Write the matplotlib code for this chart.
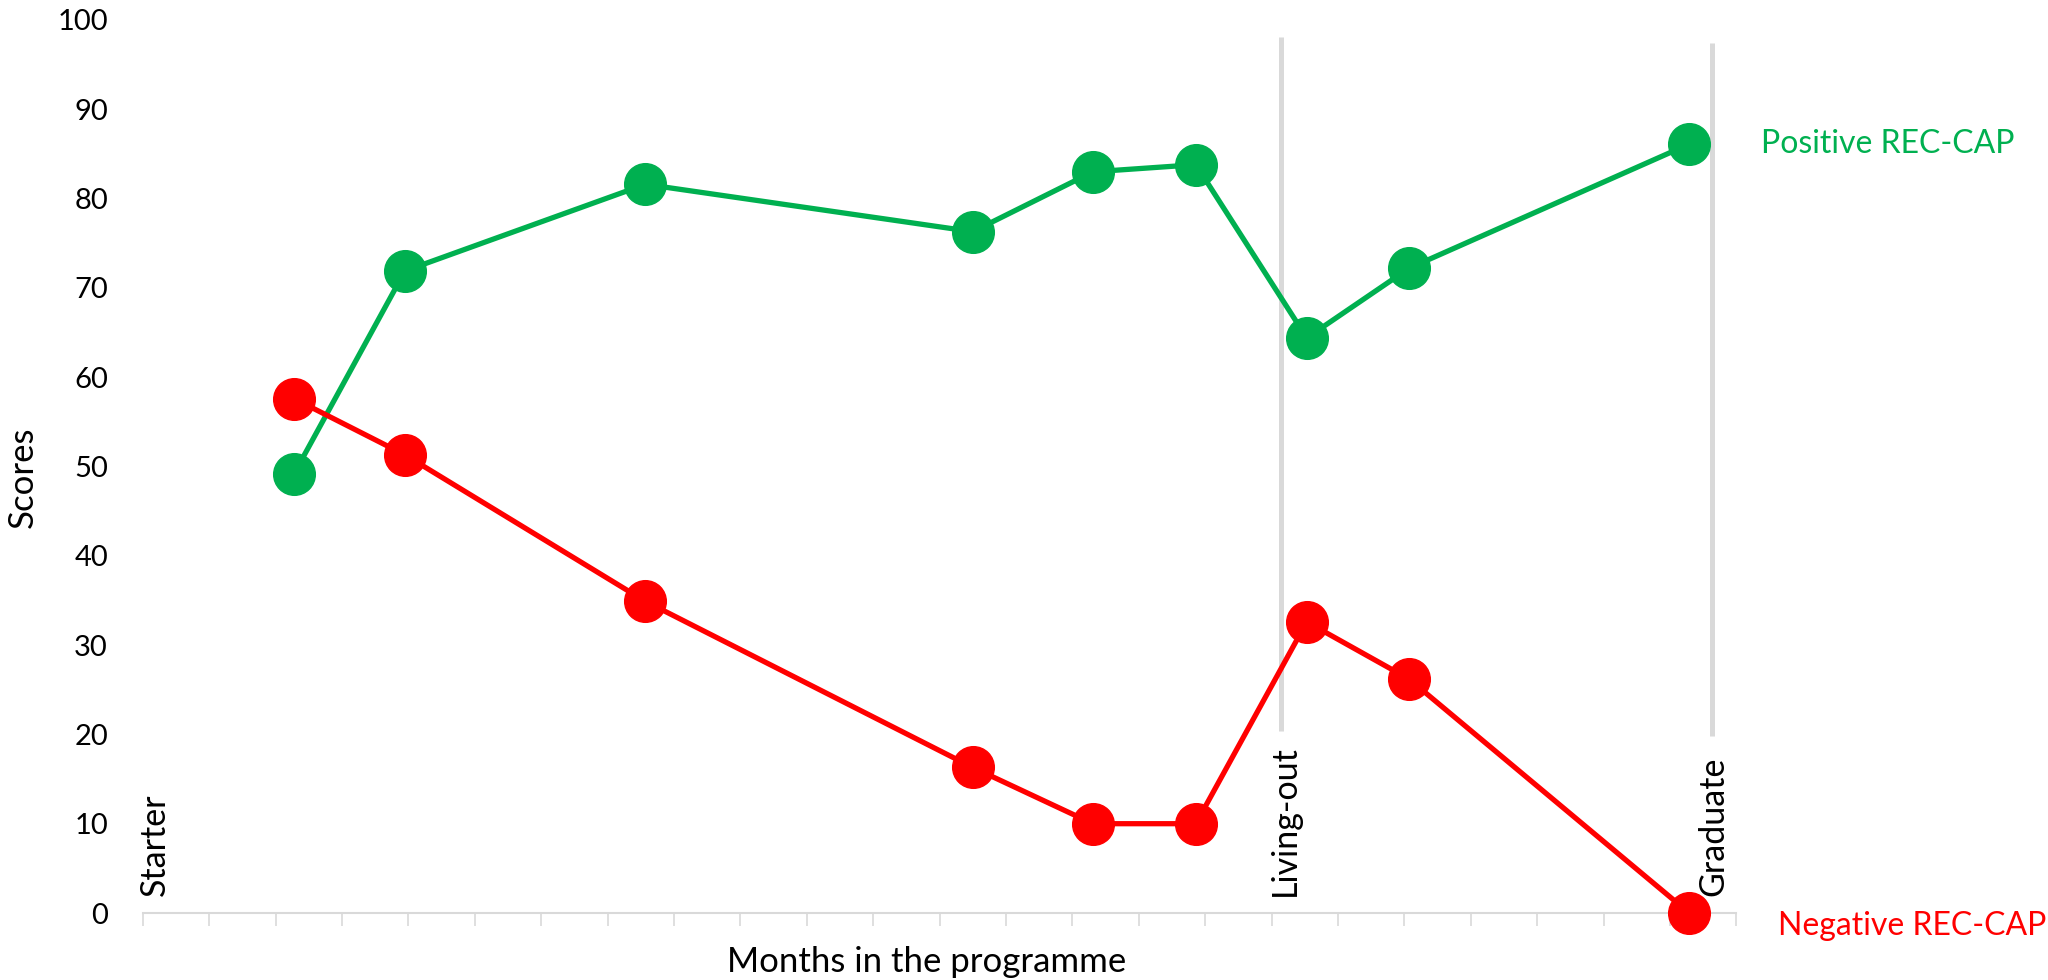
import matplotlib
matplotlib.use("Agg")
import matplotlib.pyplot as plt

# months in the programme and REC-CAP scores
months = [2.28, 3.95, 7.57, 12.5, 14.31, 15.86, 17.53, 19.07, 23.29]
positive = [49.2, 71.9, 81.6, 76.3, 83.0, 83.8, 64.4, 72.2, 86.1]
negative = [57.6, 51.3, 34.9, 16.3, 10.0, 10.0, 32.6, 26.2, 0.0]

# programme stages
stage_names = ["Starter", "Living-out", "Graduate"]
stage_x = [0.18, 17.2, 23.65]
# stage separators (x, y from, y to)
sep_x = [17.14, 23.64]
sep_lo = [20.4, 19.8]
sep_hi = [98.1, 97.4]

green = "#00b050"
red = "#ff0000"
grey = "#d9d9d9"

plt.rcParams['font.family'] = ['Lato', 'DejaVu Sans']

fig = plt.figure(figsize=(20.48, 9.8), dpi=100)
ax = fig.add_axes([142.7 / 2048, 67 / 980, (1736.4 - 142.7) / 2048, 893 / 980])

for x, lo, hi in zip(sep_x, sep_lo, sep_hi):
    ax.plot([x, x], [lo, hi], color=grey, lw=3.6, zorder=1, solid_capstyle='butt')

ax.plot(months, positive, color=green, lw=3.8, marker='o', ms=30, clip_on=False, zorder=3)
ax.plot(months, negative, color=red, lw=3.8, marker='o', ms=30, clip_on=False, zorder=3)

ax.annotate("Positive REC-CAP", (months[-1], positive[-1]), xytext=(52, 0),
            textcoords='offset points', color=green, fontsize=23, va='center', ha='left')
ax.annotate("Negative REC-CAP", (months[-1], negative[-1]), xytext=(64, -9),
            textcoords='offset points', color=red, fontsize=23, va='center', ha='left')

for name, x in zip(stage_names, stage_x):
    ax.text(x, 1.9, name, rotation=90, ha='center', va='bottom', fontsize=24.5)

ax.set_xlim(0, 24)
ax.set_ylim(0, 100)
ax.set_xticks(range(0, 25))
ax.set_xticklabels([])
ax.set_yticks(range(0, 101, 10))
ax.tick_params(axis='x', direction='out', length=9.4, width=1.2, color=grey)
ax.tick_params(axis='y', length=0, pad=25, labelsize=21)

for side in ['top', 'right', 'left']:
    ax.spines[side].set_visible(False)
ax.spines['bottom'].set_color(grey)
ax.spines['bottom'].set_linewidth(1.5)

ax.set_xlabel("Months in the programme", fontsize=25)
ax.xaxis.set_label_coords(0.492, -0.0549)
ax.xaxis.label.set_va('center')
ax.set_ylabel("Scores", fontsize=25)
ax.yaxis.set_label_coords(-0.0751, 0.488)
ax.yaxis.label.set_va('center')

fig.savefig("out.png", dpi=100)
